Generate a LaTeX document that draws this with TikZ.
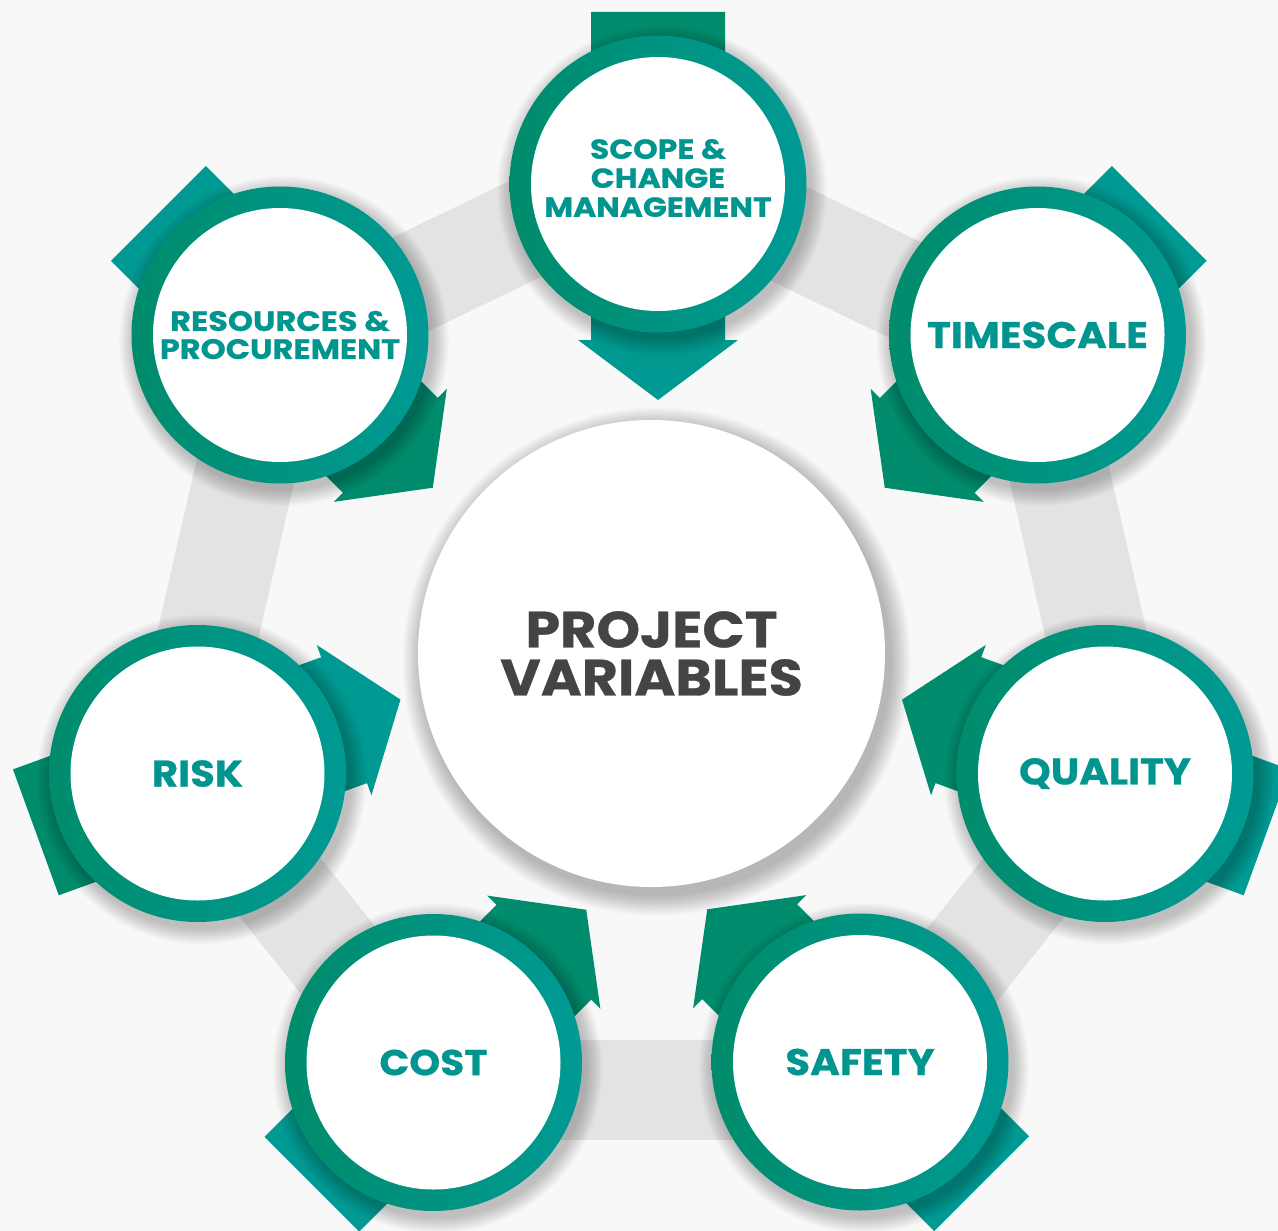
\documentclass[tikz,border=0pt]{standalone}
\usepackage{fontspec}
\setmainfont{Poppins}
\newfontfamily\pvfont{Poppins}[FakeStretch=1.09, BoldFeatures={FakeBold=0.6}]
\newfontfamily\pvwide{Poppins}[FakeStretch=1.14, BoldFeatures={FakeBold=0.6}]
\usetikzlibrary{calc}
\definecolor{tgreen}{HTML}{008C6C}
\definecolor{tteal}{HTML}{009A94}
\definecolor{ttext}{HTML}{00958F}
\definecolor{tdark}{HTML}{444444}
\definecolor{bandgray}{HTML}{E3E3E3}
\definecolor{bggray}{HTML}{F8F8F8}

% #1 centre, #2 direction, #3 shading angle, #4 tail colour, #5 head colour
\newcommand{\pvarrow}[5]{%
  \shade[top color=#4, bottom color=#5, shading angle=#3]
    ($(#1)+(#2:-172pt)+(#2+90:67pt)$) -- ($(#1)+(#2:156pt)+(#2+90:67pt)$)
    -- ($(#1)+(#2:156pt)+(#2+90:80pt)$) -- ($(#1)+(#2:216pt)$)
    -- ($(#1)+(#2:156pt)+(#2-90:80pt)$) -- ($(#1)+(#2:156pt)+(#2-90:67pt)$)
    -- ($(#1)+(#2:-172pt)+(#2-90:67pt)$) -- cycle;}
% #1 centre, #2 radius
\newcommand{\pvshadow}[2]{%
  \foreach \k in {1,...,12}{\fill[black, opacity=0.02] ($(#1)+(4pt,-6pt)$) circle [radius={#2+\k*1.4pt}];}}

\tikzset{
  ringnode/.style={circle, inner sep=0pt, minimum size=297pt, left color=tgreen, right color=tteal},
  disknode/.style={circle, inner sep=0pt, minimum size=254pt, fill=white},
  lbl/.style={text=ttext, align=center, inner sep=0pt, font=\pvfont\bfseries\fontsize{37}{40}\selectfont},
  band/.style={draw=bandgray, line width=100pt, line join=round}
}

\begin{document}
\begin{tikzpicture}[x=1pt, y=-1pt]
\fill[bggray] (0,0) rectangle (1278,1231);
\useasboundingbox (0,0) rectangle (1278,1231);

% heptagon band
\coordinate (hc) at (652,653);
\foreach \i in {0,...,6}{\coordinate (h\i) at ($(hc)+({90-51.4286*\i}:485pt)$);}
\draw[band] (h0) -- (h1) -- (h2) -- (h3) -- (h4) -- (h5) -- (h6) -- cycle;

% centre
\coordinate (mc) at (651.5,653.5);
\foreach \k in {1,...,14}{\fill[black, opacity=0.018] ($(mc)+(5pt,-8pt)$) circle [radius={233pt+\k*1.5pt}];}
\node[circle, inner sep=0pt, minimum size=467pt, fill=white] (main) at (mc) {};
\node[text=tdark, align=center, inner sep=0pt, font=\pvfont\bfseries\fontsize{51}{48}\selectfont] (mainT) at (main) {PROJECT\\VARIABLES};

% positions
\coordinate (cScope) at (658,184);
\coordinate (cTime) at (1037.5,335);
\coordinate (cQual) at (1105,773.5);
\coordinate (cSafe) at (860,1062);
\coordinate (cCost) at (433.5,1062.5);
\coordinate (cRisk) at (197.5,773.5);
\coordinate (cRes) at (280,335);

% arrows, shadows, rings
\pvarrow{cScope}{-90}{0}{tgreen}{tteal}
\pvshadow{cScope}{148pt}
\node[ringnode] (scope) at (cScope) {};
\node[disknode] (scopeIn) at (scope) {};
\node[lbl, font=\pvwide\bfseries\fontsize{27.5}{29}\selectfont] (scopeT) at ($(scope)+(0,-6)$) {SCOPE \&\\CHANGE\\MANAGEMENT};

\pvarrow{cTime}{-135}{-45}{tteal}{tgreen}
\pvshadow{cTime}{148pt}
\node[ringnode] (time) at (cTime) {};
\node[disknode] (timeIn) at (time) {};
\node[lbl] (timeT) at (time) {TIMESCALE};

\pvarrow{cQual}{160}{250}{tteal}{tgreen}
\pvshadow{cQual}{148pt}
\node[ringnode] (qual) at (cQual) {};
\node[disknode] (qualIn) at (qual) {};
\node[lbl] (qualT) at (qual) {QUALITY};

\pvarrow{cSafe}{135}{225}{tteal}{tgreen}
\pvshadow{cSafe}{148pt}
\node[ringnode] (safe) at (cSafe) {};
\node[disknode] (safeIn) at (safe) {};
\node[lbl] (safeT) at (safe) {SAFETY};

\pvarrow{cCost}{45}{135}{tteal}{tgreen}
\pvshadow{cCost}{148pt}
\node[ringnode] (cost) at (cCost) {};
\node[disknode] (costIn) at (cost) {};
\node[lbl, font=\pvfont\bfseries\fontsize{36}{40}\selectfont] (costT) at (cost) {COST};

\pvarrow{cRisk}{20}{110}{tgreen}{tteal}
\pvshadow{cRisk}{148pt}
\node[ringnode] (risk) at (cRisk) {};
\node[disknode] (riskIn) at (risk) {};
\node[lbl] (riskT) at (risk) {RISK};

\pvarrow{cRes}{-45}{45}{tteal}{tgreen}
\pvshadow{cRes}{148pt}
\node[ringnode] (res) at (cRes) {};
\node[disknode] (resIn) at (res) {};
\node[lbl, font=\pvwide\bfseries\fontsize{28}{28}\selectfont] (resT) at (res) {RESOURCES \&\\PROCUREMENT};
\end{tikzpicture}
\end{document}
